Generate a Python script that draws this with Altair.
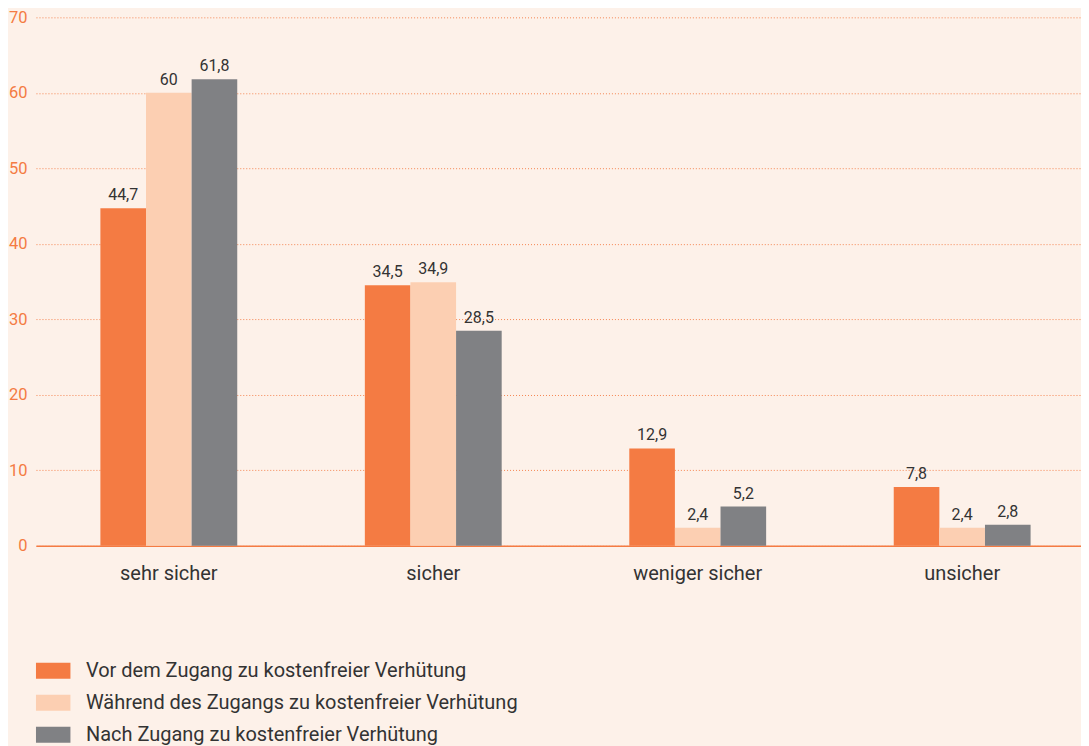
import altair as alt
import pandas as pd

categories = ["sehr sicher", "sicher", "weniger sicher", "unsicher"]
series = [
    "Vor dem Zugang zu kostenfreier Verhütung",
    "Während des Zugangs zu kostenfreier Verhütung",
    "Nach Zugang zu kostenfreier Verhütung",
]
vor = [44.7, 34.5, 12.9, 7.8]
waehrend = [60.0, 34.9, 2.4, 2.4]
nach = [61.8, 28.5, 5.2, 2.8]
colors = ["#f47b43", "#fccfb2", "#808184"]
y_ticks = [0, 10, 20, 30, 40, 50, 60, 70]

ORANGE = "#f47b43"
TEXT = "#333333"
BG = "#fdf1e9"
FONT = "Roboto"

rows = []
for s, vals in zip(series, [vor, waehrend, nach]):
    for c, v in zip(categories, vals):
        rows.append({"Kategorie": c, "Gruppe": s, "Wert": v,
                     "Label": f"{v:g}".replace(".", ",")})
df = pd.DataFrame(rows)

base = alt.Chart(df).encode(
    x=alt.X(
        "Kategorie:N",
        sort=categories,
        scale=alt.Scale(paddingInner=0.4825, paddingOuter=0.2171, align=0.561),
        axis=alt.Axis(
            title=None, labelAngle=0, ticks=False, domain=True,
            domainColor=ORANGE, domainWidth=1.5, labelFontSize=20,
            labelColor=TEXT, labelPadding=18, grid=False, labelFont=FONT,
        ),
    ),
    xOffset=alt.XOffset("Gruppe:N", sort=series,
                        scale=alt.Scale(paddingInner=0, paddingOuter=0)),
)

bars = base.mark_bar().encode(
    y=alt.Y(
        "Wert:Q",
        scale=alt.Scale(domain=[0, 70], nice=False),
        axis=alt.Axis(
            title=None, values=y_ticks, ticks=False, domain=False,
            labelColor=ORANGE, labelFontSize=16.5, labelPadding=9,
            labelFont=FONT, gridColor=ORANGE, gridDash=[1, 2],
            gridWidth=1, gridOpacity=0.9,
        ),
    ),
    color=alt.Color(
        "Gruppe:N",
        sort=series,
        scale=alt.Scale(domain=series, range=colors),
        legend=alt.Legend(
            title=None, orient="none", legendX=0, legendY=638,
            direction="vertical",
            symbolType="M-1.156,-0.5H1.156V0.5H-1.156Z",
            symbolSize=1024, symbolStrokeWidth=0, symbolOpacity=1,
            labelFontSize=20, labelColor=TEXT, labelFont=FONT,
            labelOffset=18, rowPadding=0, padding=0,
            clipHeight=32, labelLimit=700,
        ),
    ),
)

text = base.mark_text(
    baseline="bottom", dy=-5, fontSize=16, color=TEXT, font=FONT
).encode(y="Wert:Q", text="Label:N")

chart = (
    alt.layer(bars, text)
    .properties(width=1046, height=529,
                padding={"top": 1, "left": 0, "right": 0, "bottom": 0},
                background=BG)
    .configure_view(stroke=None)
)

chart.save("out.html", embed_options={"renderer": "svg", "actions": False})
